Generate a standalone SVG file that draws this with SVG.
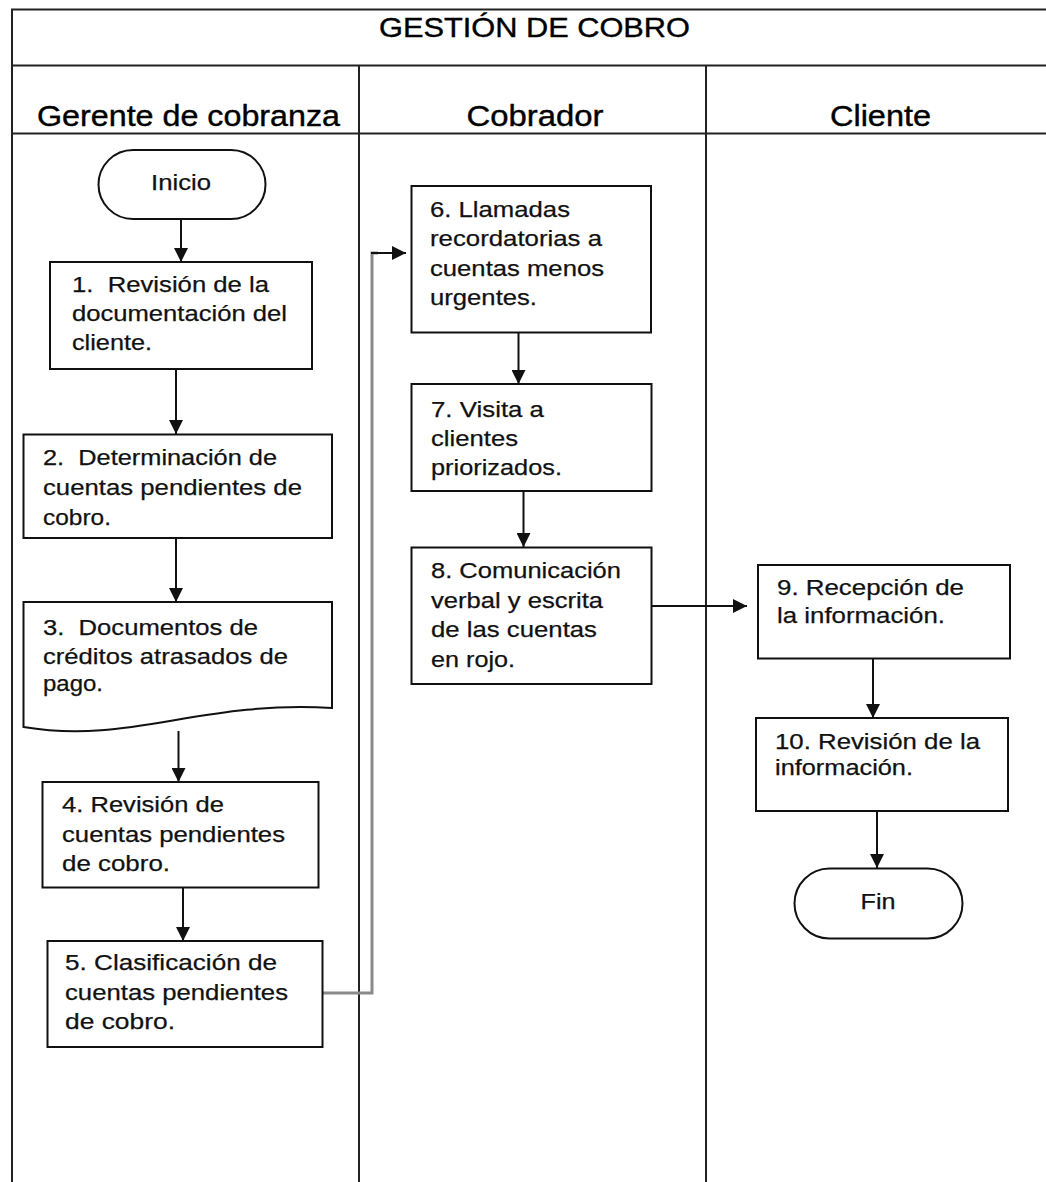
<svg xmlns="http://www.w3.org/2000/svg" width="1046" height="1182" viewBox="0 0 1046 1182">
<style>
.frame{stroke:#222;stroke-width:2;fill:none}
.box{fill:#fff;stroke:#111;stroke-width:2}
.t{font-family:"Liberation Sans",Arial,sans-serif;font-size:22.5px;fill:#111;stroke:#111;stroke-width:0.25}
.h{font-family:"Liberation Sans",Arial,sans-serif;font-size:29px;fill:#000;stroke:#000;stroke-width:0.4}
.ttl{font-family:"Liberation Sans",Arial,sans-serif;font-size:28.5px;fill:#000;stroke:#000;stroke-width:0.4}
.c{stroke:#111;stroke-width:2;fill:none}
.g{stroke:#8a8a8a;stroke-width:3;fill:none}
</style>
<defs>
<marker id="ah" viewBox="0 0 14 14" refX="14" refY="7" markerWidth="14" markerHeight="14" markerUnits="userSpaceOnUse" orient="auto">
<path d="M0,0 L14,7 L0,14 z" fill="#111"/>
</marker>
</defs>
<rect width="1046" height="1182" fill="#fff"/>
<g id="pool">
<path class="frame" d="M1046,9.5 H12 V1182"/>
<path class="frame" d="M12,65.5 H1046"/>
<path class="frame" d="M12,133.5 H1046"/>
<path class="frame" d="M359,65.5 V1182"/>
<path class="frame" d="M706,65.5 V1182"/>
<text class="ttl" x="379" y="37" textLength="311" lengthAdjust="spacingAndGlyphs">GESTIÓN DE COBRO</text>
<text class="h" x="37" y="125.5" textLength="303" lengthAdjust="spacingAndGlyphs">Gerente de cobranza</text>
<text class="h" x="466.5" y="125.5" textLength="137" lengthAdjust="spacingAndGlyphs">Cobrador</text>
<text class="h" x="830" y="125.5" textLength="101" lengthAdjust="spacingAndGlyphs">Cliente</text>
</g>
<g id="connectors">
<path class="c" d="M181,219 V262" marker-end="url(#ah)"/>
<path class="c" d="M176,369 V434" marker-end="url(#ah)"/>
<path class="c" d="M176,538 V602" marker-end="url(#ah)"/>
<path class="c" d="M178.5,731 V782" marker-end="url(#ah)"/>
<path class="c" d="M183,887.5 V941" marker-end="url(#ah)"/>
<path class="g" d="M323,993 H372 V253 H378"/>
<path class="c" d="M371,253 H406" marker-end="url(#ah)"/>
<path class="c" d="M518.5,332.5 V384" marker-end="url(#ah)"/>
<path class="c" d="M523.5,491 V547" marker-end="url(#ah)"/>
<path class="c" d="M651.5,606 H747" marker-end="url(#ah)"/>
<path class="c" d="M873,658.5 V718" marker-end="url(#ah)"/>
<path class="c" d="M877,811 V868" marker-end="url(#ah)"/>
</g>
<g id="inicio">
<rect class="box" x="98.5" y="150" width="167" height="69" rx="34.5"/>
<text class="t" x="151" y="190" textLength="60" lengthAdjust="spacingAndGlyphs">Inicio</text>
</g>
<g id="n1">
<rect class="box" x="50" y="262" width="262" height="107"/>
<text class="t" xml:space="preserve" x="72" y="291.5" textLength="197" lengthAdjust="spacingAndGlyphs">1.  Revisión de la</text>
<text class="t" x="72" y="321" textLength="215" lengthAdjust="spacingAndGlyphs">documentación del</text>
<text class="t" x="72" y="350" textLength="80" lengthAdjust="spacingAndGlyphs">cliente.</text>
</g>
<g id="n2">
<rect class="box" x="23.5" y="434.5" width="308.5" height="103.5"/>
<text class="t" xml:space="preserve" x="43" y="465" textLength="234" lengthAdjust="spacingAndGlyphs">2.  Determinación de</text>
<text class="t" x="43" y="495" textLength="259" lengthAdjust="spacingAndGlyphs">cuentas pendientes de</text>
<text class="t" x="43" y="524.5" textLength="68" lengthAdjust="spacingAndGlyphs">cobro.</text>
</g>
<g id="n3">
<path class="box" d="M23.5,602 H332 V708 C200,700 130,745 23.5,727 Z"/>
<text class="t" xml:space="preserve" x="43" y="635" textLength="215" lengthAdjust="spacingAndGlyphs">3.  Documentos de</text>
<text class="t" x="43" y="663.5" textLength="245" lengthAdjust="spacingAndGlyphs">créditos atrasados de</text>
<text class="t" x="43" y="691" textLength="60" lengthAdjust="spacingAndGlyphs">pago.</text>
</g>
<g id="n4">
<rect class="box" x="42.5" y="782" width="276" height="105.5"/>
<text class="t" x="62" y="811.5" textLength="162" lengthAdjust="spacingAndGlyphs">4. Revisión de</text>
<text class="t" x="62" y="841.5" textLength="223" lengthAdjust="spacingAndGlyphs">cuentas pendientes</text>
<text class="t" x="62" y="870.5" textLength="108" lengthAdjust="spacingAndGlyphs">de cobro.</text>
</g>
<g id="n5">
<rect class="box" x="47.5" y="941" width="275" height="106"/>
<text class="t" x="65" y="970" textLength="212" lengthAdjust="spacingAndGlyphs">5. Clasificación de</text>
<text class="t" x="65" y="1000" textLength="223" lengthAdjust="spacingAndGlyphs">cuentas pendientes</text>
<text class="t" x="65" y="1029" textLength="110" lengthAdjust="spacingAndGlyphs">de cobro.</text>
</g>
<g id="n6">
<rect class="box" x="411.5" y="186" width="239.5" height="146.5"/>
<text class="t" x="430" y="216.5" textLength="140" lengthAdjust="spacingAndGlyphs">6. Llamadas</text>
<text class="t" x="430" y="246" textLength="172" lengthAdjust="spacingAndGlyphs">recordatorias a</text>
<text class="t" x="430" y="276" textLength="174" lengthAdjust="spacingAndGlyphs">cuentas menos</text>
<text class="t" x="430" y="305" textLength="107" lengthAdjust="spacingAndGlyphs">urgentes.</text>
</g>
<g id="n7">
<rect class="box" x="411.5" y="384" width="240" height="107"/>
<text class="t" x="431" y="416.5" textLength="113" lengthAdjust="spacingAndGlyphs">7. Visita a</text>
<text class="t" x="431" y="446" textLength="87" lengthAdjust="spacingAndGlyphs">clientes</text>
<text class="t" x="431" y="475" textLength="131" lengthAdjust="spacingAndGlyphs">priorizados.</text>
</g>
<g id="n8">
<rect class="box" x="411.5" y="547.5" width="240" height="136.5"/>
<text class="t" x="431" y="578" textLength="190" lengthAdjust="spacingAndGlyphs">8. Comunicación</text>
<text class="t" x="431" y="607.5" textLength="172" lengthAdjust="spacingAndGlyphs">verbal y escrita</text>
<text class="t" x="431" y="637" textLength="166" lengthAdjust="spacingAndGlyphs">de las cuentas</text>
<text class="t" x="431" y="666.5" textLength="84" lengthAdjust="spacingAndGlyphs">en rojo.</text>
</g>
<g id="n9">
<rect class="box" x="758" y="565" width="252" height="93.5"/>
<text class="t" x="777" y="595" textLength="187" lengthAdjust="spacingAndGlyphs">9. Recepción de</text>
<text class="t" x="777" y="622.5" textLength="168" lengthAdjust="spacingAndGlyphs">la información.</text>
</g>
<g id="n10">
<rect class="box" x="756" y="718" width="252" height="93"/>
<text class="t" x="775" y="748.5" textLength="205" lengthAdjust="spacingAndGlyphs">10. Revisión de la</text>
<text class="t" x="775" y="775" textLength="138" lengthAdjust="spacingAndGlyphs">información.</text>
</g>
<g id="fin">
<rect class="box" x="794.5" y="868.5" width="168" height="70" rx="35"/>
<text class="t" x="860.5" y="909" textLength="35" lengthAdjust="spacingAndGlyphs">Fin</text>
</g>
</svg>
